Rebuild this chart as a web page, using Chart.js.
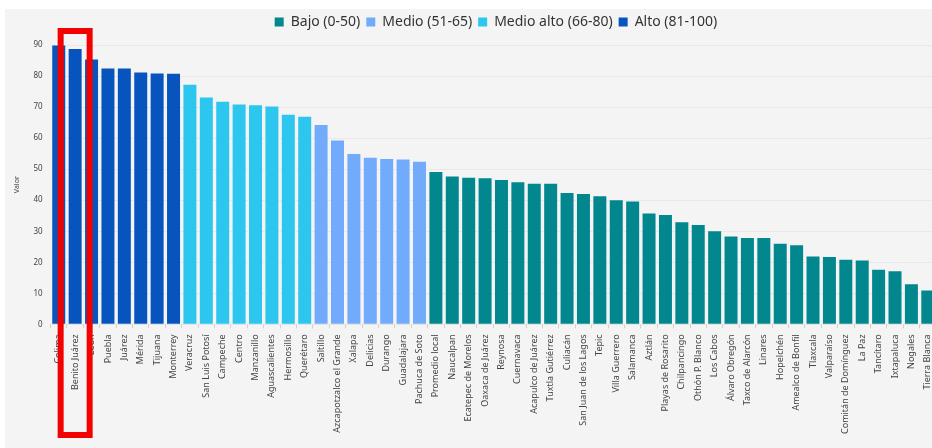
<!DOCTYPE html>
<html>
<head>
<meta charset="utf-8">
<script src="https://cdn.jsdelivr.net/npm/chart.js@4.4.1/dist/chart.umd.min.js"></script>
<style>
  html, body { margin: 0; padding: 0; background: #fff; overflow: hidden; }
  #wrap { position: absolute; left: 5px; top: 9px; width: 978px; height: 439px; background: #f4f4f4; }
</style>
</head>
<body>
<div id="wrap"><canvas id="barChart"></canvas></div>
<script>
// datos
const municipios = [
  'Colima', 'Benito Juárez', 'León', 'Puebla', 'Juárez', 'Mérida', 'Tijuana', 'Monterrey',
  'Veracruz', 'San Luis Potosí', 'Campeche', 'Centro', 'Manzanillo', 'Aguascalientes', 'Hermosillo', 'Querétaro',
  'Saltillo', 'Azcapotzalco el Grande', 'Xalapa', 'Delicias', 'Durango', 'Guadalajara', 'Pachuca de Soto',
  'Promedio local', 'Naucalpan', 'Ecatepec de Morelos', 'Oaxaca de Juárez', 'Reynosa', 'Cuernavaca',
  'Acapulco de Juárez', 'Tuxtla Gutiérrez', 'Culiacán', 'San Juan de los Lagos', 'Tepic', 'Villa Guerrero',
  'Salamanca', 'Aztlán', 'Playas de Rosarito', 'Chilpancingo', 'Othón P. Blanco', 'Los Cabos',
  'Álvaro Obregón', 'Taxco de Alarcón', 'Linares', 'Hopelchén', 'Amealco de Bonfil', 'Tlaxcala',
  'Valparaíso', 'Comitán de Domínguez', 'La Paz', 'Tancítaro', 'Ixtapaluca', 'Nogales', 'Tierra Blanca'
];
const valores = [
  89.8, 88.7, 85.3, 82.4, 82.4, 81.1, 80.8, 80.7,
  77.2, 73.1, 71.7, 70.8, 70.6, 70.2, 67.5, 66.9,
  64.2, 59.2, 54.9, 53.7, 53.3, 53.1, 52.4,
  49.1, 47.6, 47.2, 47.1, 46.5, 45.8,
  45.3, 45.3, 42.3, 42.0, 41.3, 40.0,
  39.6, 35.7, 35.2, 32.9, 32.0, 30.0,
  28.3, 27.8, 27.8, 26.0, 25.5, 21.9,
  21.7, 20.8, 20.6, 17.6, 17.1, 12.9, 10.9
];
// 0 = Bajo, 1 = Medio, 2 = Medio alto, 3 = Alto
const grupo = [
  3, 3, 3, 3, 3, 3, 3, 3,
  2, 2, 2, 2, 2, 2, 2, 2,
  1, 1, 1, 1, 1, 1, 1,
  0, 0, 0, 0, 0, 0, 0, 0, 0, 0, 0, 0, 0, 0, 0, 0, 0, 0, 0, 0, 0, 0, 0, 0, 0, 0, 0, 0, 0, 0, 0
];
const nombresGrupo = ['Bajo (0-50)', 'Medio (51-65)', 'Medio alto (66-80)', 'Alto (81-100)'];
const coloresGrupo = ['#02878f', '#72abfb', '#2cc6ef', '#0754bf'];
const destacado = 1; // Benito Juárez

const datasets = nombresGrupo.map((nombre, g) => ({
  label: nombre,
  data: valores.map((v, i) => grupo[i] === g ? v : null),
  backgroundColor: coloresGrupo[g],
  borderWidth: 0,
  categoryPercentage: 0.9,
  barPercentage: 0.88
}));

// recuadro rojo alrededor del municipio destacado
const recuadro = {
  id: 'recuadro',
  afterDraw(chart) {
    const x = chart.scales.x.getPixelForValue(destacado);
    const c = chart.ctx;
    c.save();
    c.strokeStyle = '#f30000';
    c.lineWidth = 6;
    c.strokeRect(x - 14.5, 22, 29, 404);
    c.restore();
  }
};

// un poco más de aire debajo de la leyenda
const margenLeyenda = {
  id: 'margenLeyenda',
  beforeInit(chart) {
    const fit = chart.legend.fit;
    chart.legend.fit = function () {
      fit.bind(chart.legend)();
      this.height += 6;
    };
  }
};

const ctx = document.getElementById('barChart').getContext('2d');
const myChart = new Chart(ctx, {
  type: 'bar',
  data: { labels: municipios, datasets: datasets },
  options: {
    responsive: true,
    maintainAspectRatio: false,
    animation: false,
    layout: { padding: { left: 4, right: 0, top: 0, bottom: 8 } },
    plugins: {
      legend: {
        position: 'top',
        labels: {
          boxWidth: 9, boxHeight: 9, padding: 6,
          color: '#333',
          font: { family: 'Noto Sans', size: 14 }
        }
      },
      tooltip: { enabled: false }
    },
    scales: {
      x: {
        stacked: true,
        grid: { drawOnChartArea: false, drawTicks: true, tickLength: 4, color: '#d0d0d0' },
        border: { display: true, color: '#e4e4e4' },
        ticks: {
          autoSkip: false, maxRotation: 90, minRotation: 90, padding: 6,
          color: '#444',
          font: { family: 'Noto Sans', size: 9 }
        }
      },
      y: {
        stacked: true,
        min: 0, max: 90,
        grid: { color: '#e8e8e8', drawTicks: false },
        border: { display: false },
        title: { display: true, text: 'Valor', color: '#444', font: { family: 'Noto Sans', size: 7 }, padding: 4 },
        ticks: {
          stepSize: 10, padding: 8, color: '#444',
          font: { family: 'Noto Sans', size: 8 }
        }
      },
      // eje vacío a la derecha: deja sitio al final del gráfico
      margen: {
        position: 'right',
        display: true,
        grid: { display: false },
        border: { display: false },
        ticks: { display: false },
        afterFit(scale) { scale.width = 47; }
      }
    }
  },
  plugins: [recuadro, margenLeyenda]
});
</script>
</body>
</html>
